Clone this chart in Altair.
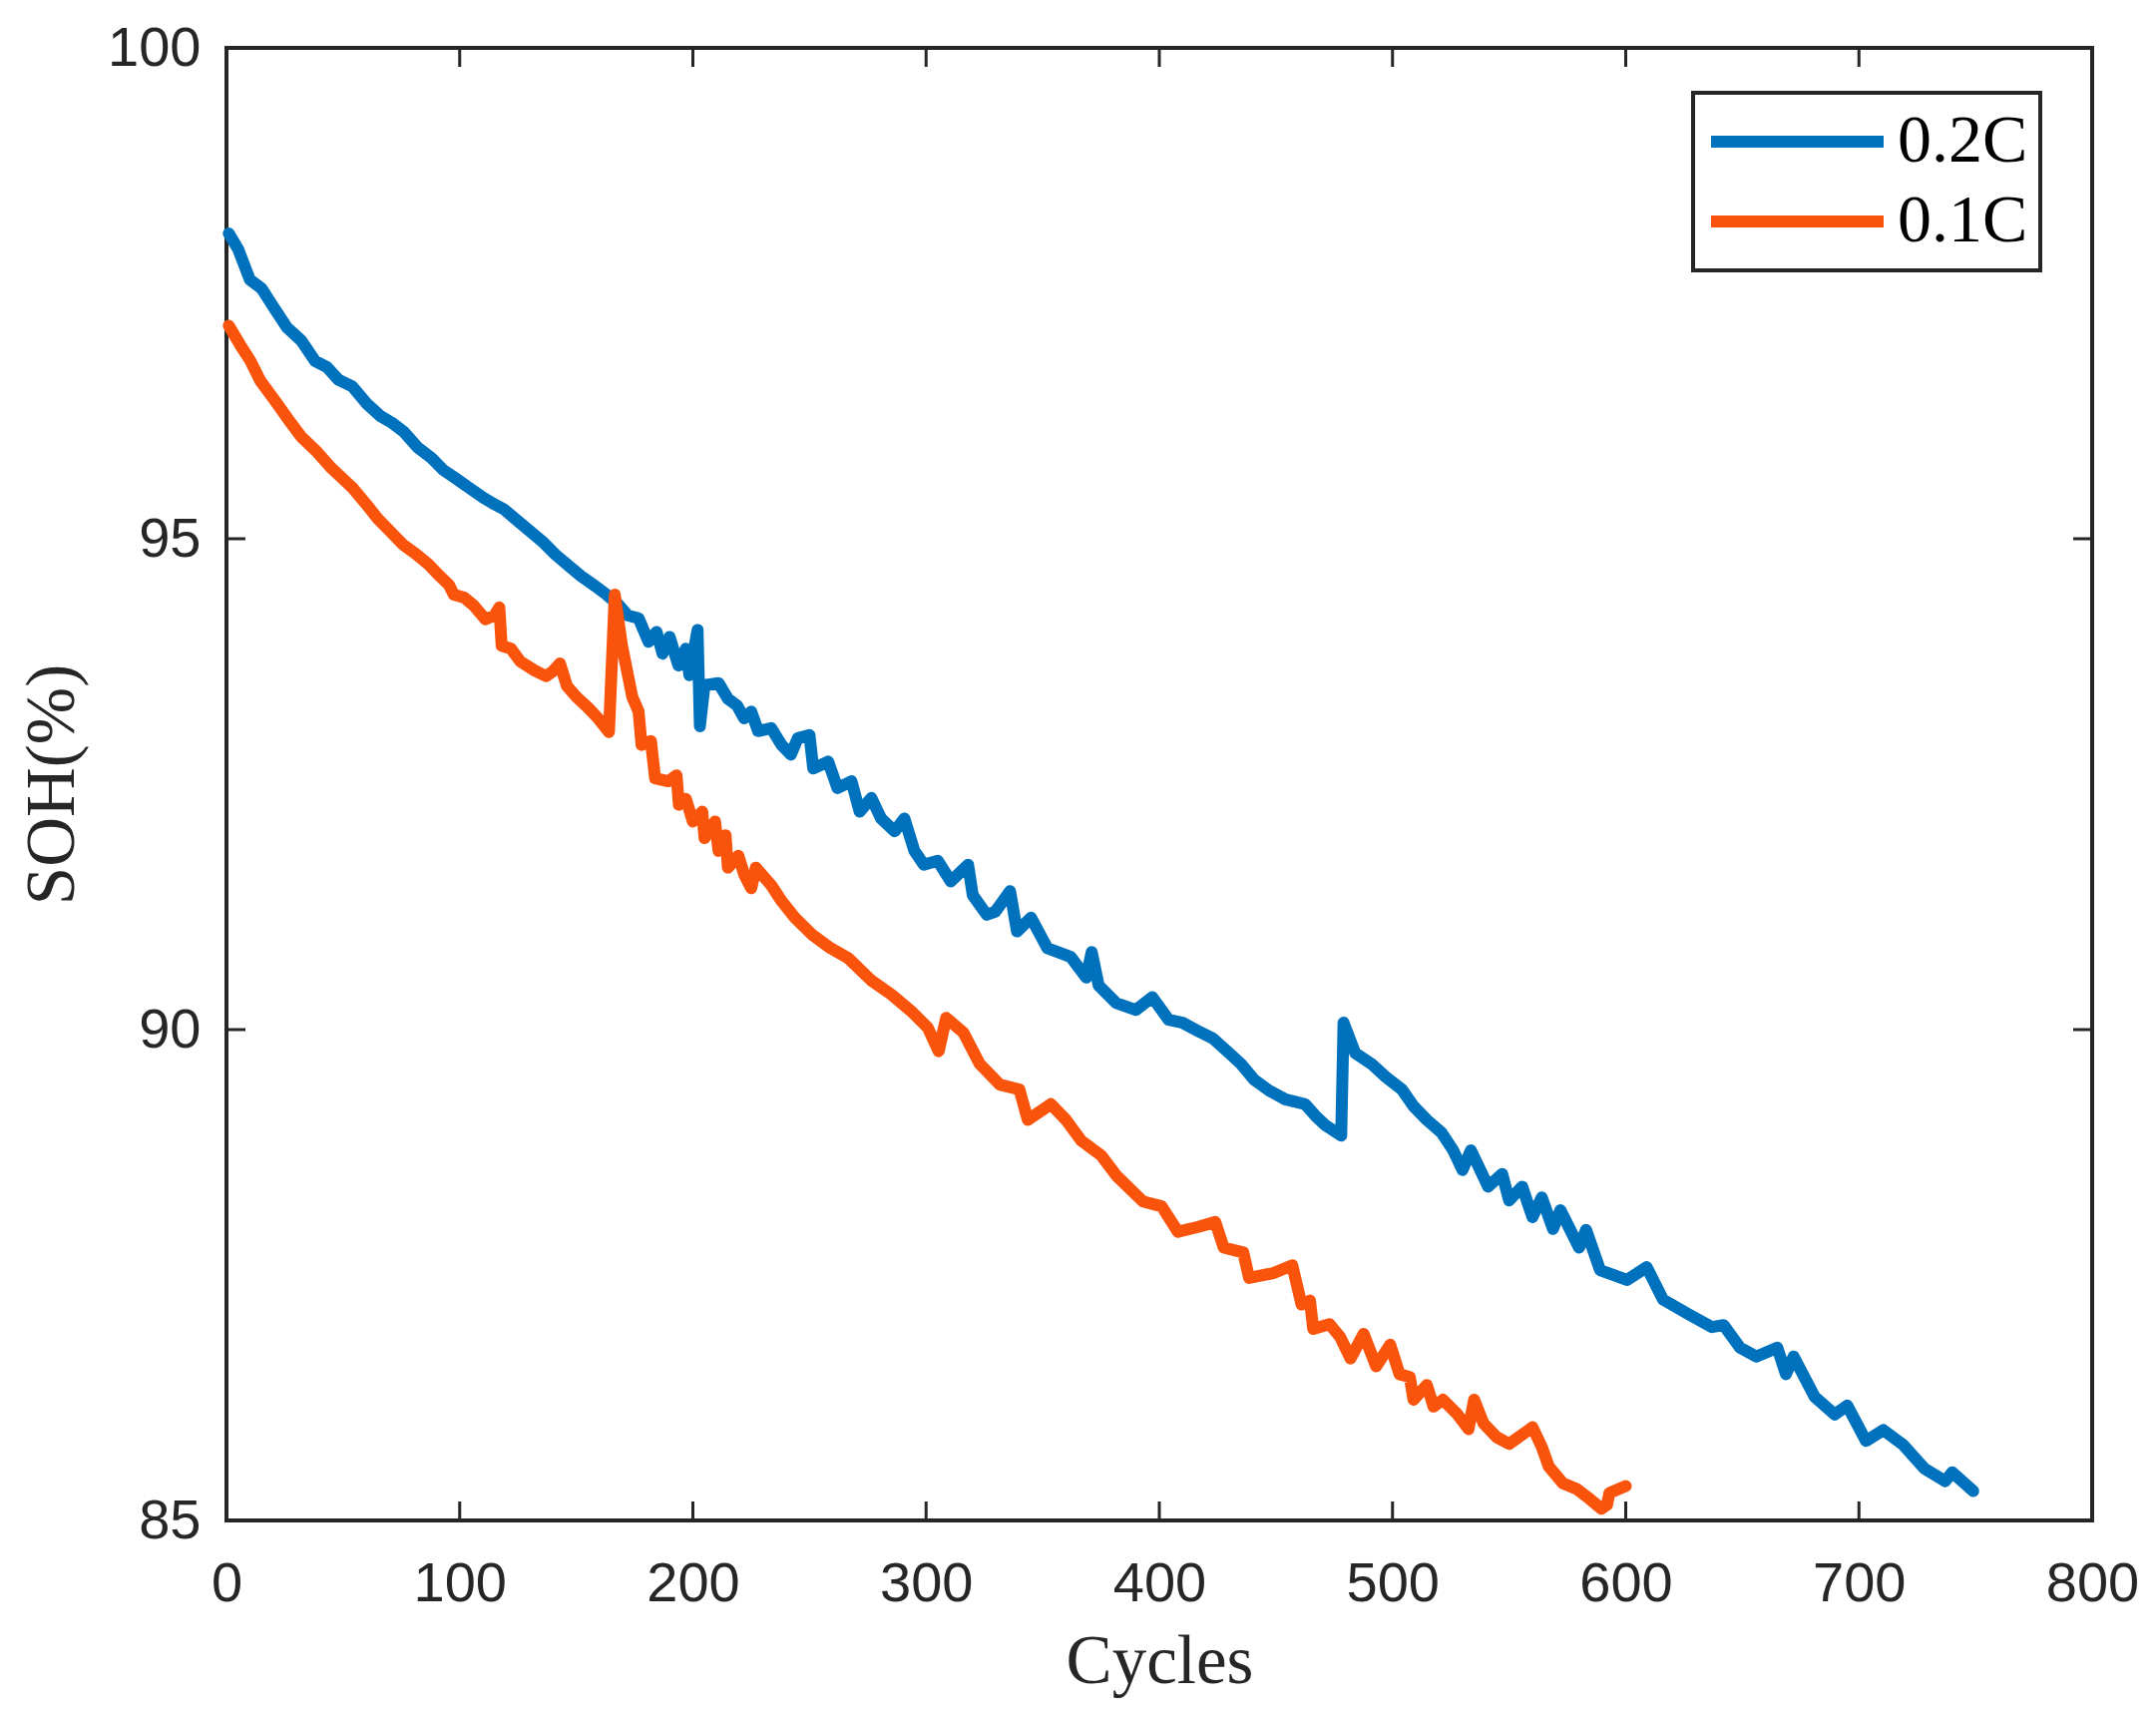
import altair as alt
import pandas as pd

# ---- data ----
cyc_02 = [1, 5, 10, 15, 21, 26, 32, 38, 43, 48, 54, 60, 66, 71, 76, 82, 88, 93, 98,
          104, 110, 115, 119, 125, 130, 136, 141, 147, 152, 158, 163, 168, 172, 176.7,
          181, 184.4, 187, 190, 193.8, 197, 198.5, 202, 203, 205, 211, 215, 219, 222,
          225, 228, 233.6, 238, 242, 245, 250, 251.6, 258, 262, 268, 271.5, 276.5,
          280.7, 286.5, 290.7, 295, 299, 305, 310.6, 318, 320, 326, 329.6, 336, 339,
          345, 352, 362, 368.7, 371, 374, 381.6, 390, 397, 404, 410, 417, 423, 430,
          435, 440.6, 447, 454, 462.5, 467, 471, 478, 479, 484, 491, 497, 504, 509,
          514.7, 521, 526, 530, 533.6, 541, 547, 550, 555.6, 560, 564, 568.8, 572,
          580, 583, 589, 600.5, 609, 616, 627, 637, 642, 649, 656, 665, 668.7, 672,
          681, 689.6, 695, 703, 710.5, 719, 728, 737, 740, 749]
soh_02 = [98.11, 97.95, 97.64, 97.55, 97.33, 97.15, 97.02, 96.81, 96.75, 96.62, 96.55,
          96.38, 96.25, 96.18, 96.09, 95.93, 95.82, 95.70, 95.62, 95.52, 95.42, 95.35,
          95.30, 95.18, 95.08, 94.96, 94.84, 94.72, 94.62, 94.52, 94.43, 94.33, 94.22,
          94.19, 93.95, 94.05, 93.83, 94.00, 93.71, 93.88, 93.61, 94.07, 93.09, 93.51,
          93.53, 93.37, 93.30, 93.17, 93.24, 93.04, 93.07, 92.90, 92.80, 92.97, 93.00,
          92.66, 92.73, 92.46, 92.53, 92.22, 92.36, 92.15, 92.02, 92.15, 91.82, 91.68,
          91.72, 91.51, 91.68, 91.37, 91.17, 91.20, 91.41, 91.00, 91.14, 90.83, 90.74,
          90.53, 90.79, 90.45, 90.27, 90.20, 90.33, 90.10, 90.07, 89.98, 89.91, 89.76,
          89.65, 89.49, 89.38, 89.29, 89.24, 89.12, 89.03, 88.92, 90.07, 89.76, 89.65,
          89.52, 89.39, 89.22, 89.08, 88.95, 88.77, 88.57, 88.77, 88.40, 88.53, 88.26,
          88.40, 88.09, 88.29, 87.97, 88.16, 87.78, 87.96, 87.55, 87.45, 87.58, 87.25,
          87.10, 86.97, 86.99, 86.76, 86.67, 86.76, 86.49, 86.67, 86.26, 86.08, 86.17,
          85.81, 85.92, 85.77, 85.53, 85.40, 85.49, 85.30]

cyc_01 = [1, 6, 10.3, 14.5, 21, 27, 32, 39, 45, 54, 60, 65, 70, 75.7, 81, 86.6, 91,
          95.4, 97.5, 102, 106, 111, 115, 117, 118, 122, 126, 132, 137, 140, 143, 146,
          150, 155, 159, 164, 166.5, 169.6, 174, 176.7, 178, 182, 183.8, 189.5, 193,
          194, 197, 200, 204, 205, 209.5, 211, 214, 215, 219.5, 222, 225, 227, 233.6,
          238, 243.7, 251, 259, 266.5, 276.5, 285, 293.5, 300.7, 305.4, 308.6, 316,
          323, 331.6, 340, 343.6, 353.5, 360, 366.5, 375, 381.7, 393, 401, 408, 416.7,
          424, 427.6, 436, 438.5, 449, 457, 461, 464.6, 466, 473, 477.5, 482, 487.6,
          493, 499, 503, 507.4, 509, 514.7, 517.6, 521.6, 527.5, 532.6, 535, 539,
          544.6, 550, 556, 560, 564, 567, 573, 579, 584.5, 589.5, 592, 593, 600]
soh_01 = [97.17, 96.97, 96.81, 96.61, 96.40, 96.20, 96.04, 95.88, 95.72, 95.52, 95.35,
          95.20, 95.08, 94.94, 94.85, 94.74, 94.63, 94.53, 94.43, 94.40, 94.32, 94.18,
          94.22, 94.30, 93.91, 93.88, 93.75, 93.66, 93.60, 93.65, 93.73, 93.50, 93.39,
          93.28, 93.18, 93.03, 94.43, 93.91, 93.39, 93.24, 92.90, 92.94, 92.56, 92.53,
          92.59, 92.29, 92.35, 92.12, 92.22, 91.95, 92.12, 91.82, 91.98, 91.65, 91.77,
          91.58, 91.44, 91.65, 91.47, 91.31, 91.14, 90.97, 90.83, 90.73, 90.50, 90.36,
          90.19, 90.02, 89.78, 90.12, 89.97, 89.65, 89.44, 89.39, 89.08, 89.24, 89.08,
          88.87, 88.72, 88.51, 88.25, 88.20, 87.94, 87.99, 88.04, 87.78, 87.73, 87.47,
          87.52, 87.60, 87.20, 87.24, 86.95, 87.00, 86.87, 86.65, 86.90, 86.57, 86.79,
          86.49, 86.46, 86.23, 86.38, 86.16, 86.23, 86.09, 85.93, 86.23, 85.99, 85.85,
          85.78, 85.88, 85.95, 85.75, 85.55, 85.38, 85.32, 85.22, 85.12, 85.16, 85.28,
          85.35]

series = ["0.2C", "0.1C"]
colors = ["#0072BD", "#F9530C"]
x_ticks = [0, 100, 200, 300, 400, 500, 600, 700, 800]
y_ticks = [85, 90, 95, 100]

# ---- layout ----
W, H = 1870, 1476
TICK = 19
AX = "#262626"

df02 = pd.DataFrame({"Cycles": cyc_02, "SOH": soh_02, "Series": series[0]})
df01 = pd.DataFrame({"Cycles": cyc_01, "SOH": soh_01, "Series": series[1]})
tx = pd.DataFrame({"t": x_ticks})
ty = pd.DataFrame({"t": y_ticks})

xs = alt.Scale(domain=[0, 800], nice=False, zero=False)
ys = alt.Scale(domain=[85, 100], nice=False, zero=False)
cs = alt.Scale(domain=series, range=colors)

xaxis = alt.Axis(values=x_ticks, ticks=False, domain=False, grid=False,
                 labelFont="Liberation Sans", labelFontSize=56, labelColor=AX,
                 labelPadding=36, labelFlush=False, labelOverlap=False, format="d",
                 title="Cycles", titleFont="Liberation Serif", titleFontSize=69,
                 titleFontWeight="normal", titleColor=AX, titlePadding=16)
yaxis = alt.Axis(values=y_ticks, ticks=False, domain=False, grid=False,
                 labelFont="Liberation Sans", labelFontSize=56, labelColor=AX,
                 labelPadding=26, labelFlush=False, labelOverlap=False, format="d",
                 title="SOH(%)", titleFont="Liberation Serif", titleFontSize=69,
                 titleFontWeight="normal", titleColor=AX, titlePadding=20)

legend = alt.Legend(orient="none", legendX=1470, legendY=45, title=None,
                    symbolType="stroke", symbolSize=29929, symbolStrokeWidth=12,
                    clipHeight=74, rowPadding=6, padding=12,
                    labelFont="Liberation Serif", labelFontSize=68, labelColor="black",
                    labelOffset=8, labelLimit=0, strokeColor=AX, fillColor="white")


def line(df):
    return alt.Chart(df).mark_line(strokeWidth=12, strokeJoin="round", strokeCap="round").encode(
        x=alt.X("Cycles:Q", scale=xs, axis=xaxis),
        y=alt.Y("SOH:Q", scale=ys, axis=yaxis),
        color=alt.Color("Series:N", scale=cs, legend=legend),
    )


blue = line(df02)
orange = line(df01)

bottom_ticks = alt.Chart(tx).mark_rule(color=AX, strokeWidth=3).encode(
    x=alt.X("t:Q", scale=xs, axis=xaxis), y=alt.value(H), y2=alt.value(H - TICK))
top_ticks = alt.Chart(tx).mark_rule(color=AX, strokeWidth=3).encode(
    x=alt.X("t:Q", scale=xs, axis=xaxis), y=alt.value(0), y2=alt.value(TICK))
left_ticks = alt.Chart(ty).mark_rule(color=AX, strokeWidth=3).encode(
    y=alt.Y("t:Q", scale=ys, axis=yaxis), x=alt.value(0), x2=alt.value(TICK))
right_ticks = alt.Chart(ty).mark_rule(color=AX, strokeWidth=3).encode(
    y=alt.Y("t:Q", scale=ys, axis=yaxis), x=alt.value(W - TICK), x2=alt.value(W))

chart = alt.layer(blue, orange, bottom_ticks, top_ticks, left_ticks, right_ticks).properties(
    width=W, height=H,
    padding={"left": 227, "top": 48, "right": 64, "bottom": 195},
    autosize=alt.AutoSizeParams(type="none"),
    background="white",
).configure_view(stroke=AX, strokeWidth=4).configure_legend(strokeWidth=4)

chart.save("out.html", embed_options={"renderer": "svg", "actions": False})
